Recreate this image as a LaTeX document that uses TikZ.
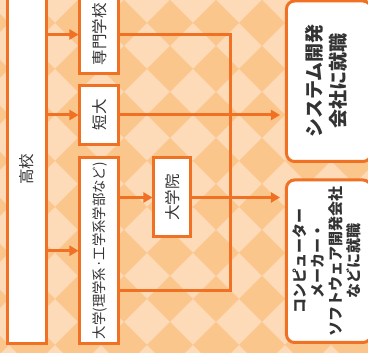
\documentclass[tikz,border=0pt]{standalone}
\usepackage{fontspec}
\usepackage{graphicx}
\usepackage{tikz}
\usetikzlibrary{arrows.meta,calc}
\newfontfamily\jpfont{Noto Sans CJK JP}
\definecolor{lineorange}{HTML}{F07024}
\definecolor{bglight}{HTML}{FDDBB9}
\definecolor{bgdark}{HTML}{FBC68C}
\definecolor{textgray}{HTML}{333333}
\newcommand{\vtext}[1]{\rotatebox{90}{#1}}

\begin{document}
\begin{tikzpicture}[x=1pt,y=-1pt,
    box/.style={rectangle,draw=lineorange,line width=3pt,fill=white,inner sep=0pt,text=textgray,font=\jpfont\fontsize{15.5}{18}\selectfont},
    goal/.style={box,rounded corners=8pt,font=\jpfont\bfseries\fontsize{19}{23}\selectfont},
    arr/.style={line width=3pt,lineorange,-{Triangle[length=9pt,width=10pt]}},
    link/.style={line width=3pt,lineorange}]
    \useasboundingbox (0,0) rectangle (368,353);
    \clip (0,0) rectangle (368,353);
    % checkered background
    \fill[bglight] (0,0) rectangle (368,353);
    \foreach \i in {-6,...,3}
      \foreach \j in {-6,...,3}
        \fill[bgdark] ({262+46*\i},{253+46*\j}) ++(-23,0) -- ++(23,-23) -- ++(23,23) -- ++(-23,23) -- cycle;
    % schools
    \node[box,minimum width=39pt,minimum height=348.5pt] (koukou) at (27,169.25) {\vtext{高校}};
    \node[box,minimum width=39pt,minimum height=78pt] (senmon) at (99.5,34.5) {\vtext{専門学校}};
    \node[box,minimum width=39pt,minimum height=59pt] (tandai) at (99.5,115) {\vtext{短大}};
    \node[box,minimum width=39pt,minimum height=185.5pt,font=\jpfont\fontsize{14}{17}\selectfont] (daigaku) at (99.5,250.75)
      {\vtext{\resizebox{177pt}{\height}{大学(理学系·工学系学部など)}}};
    \node[box,minimum width=36.5pt,minimum height=79pt] (daigakuin) at (172.25,197.5) {\vtext{大学院}};
    % jobs
    \node[goal,minimum width=84.5pt,minimum height=160.5pt] (system) at (328.75,81.25)
      {\vtext{\begin{tabular}{@{}c@{}}システム開発\\会社に就職\end{tabular}}};
    \node[goal,minimum width=84.5pt,minimum height=162.5pt,font=\jpfont\bfseries\fontsize{15}{17}\selectfont] (maker) at (328.75,261.25)
      {\vtext{\begin{tabular}{@{}c@{}}コンピューター\\メーカー・\\ソフトウェア開発会社\\などに就職\end{tabular}}};
    % paths
    \draw[arr] (koukou.east |- senmon.west) -- (senmon.west);
    \draw[arr] (koukou.east |- tandai.west) -- (tandai.west);
    \draw[arr] (koukou.east |- daigaku.west) -- (daigaku.west);
    \draw[arr] (daigaku.east |- daigakuin.west) -- (daigakuin.west);
    \coordinate (merge) at (230.5,290.5);
    \draw[link] (senmon.east) -| (merge) -- (daigaku.east |- merge);
    \draw[arr,shorten >=5pt] (tandai.east) -- (system.west |- tandai.east);
    \draw[arr,shorten >=5pt] (daigakuin.east) -- (maker.west |- daigakuin.east);
\end{tikzpicture}
\end{document}
